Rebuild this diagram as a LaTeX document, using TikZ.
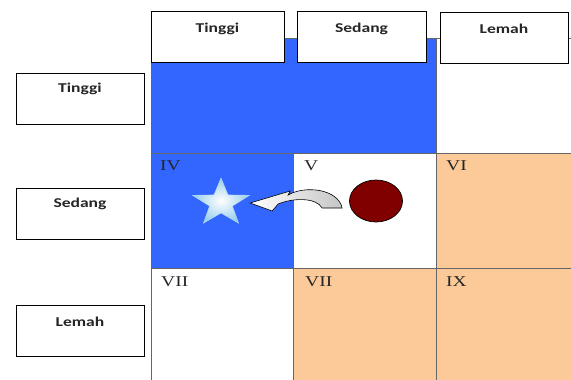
\documentclass[tikz,border=0pt]{standalone}
\usepackage{fontspec}
\setmainfont{Liberation Serif}
\newfontfamily\boxfont{Carlito}
\usepackage{graphicx}
\usetikzlibrary{shapes.geometric}

\definecolor{cellblue}{RGB}{51,102,255}
\definecolor{peach}{RGB}{252,202,152}
\definecolor{darkred}{RGB}{128,0,0}
\definecolor{starblue}{RGB}{150,205,235}
\newcommand{\wide}[1]{\scalebox{1.3}[1]{#1}}

\begin{document}
\begin{tikzpicture}[x=1pt,y=-1pt,
  hbox/.style={draw=black,line width=1pt,fill=white,minimum height=51pt,inner sep=0pt},
  htext/.style={anchor=base,font=\boxfont\bfseries\fontsize{13.5}{16}\selectfont,text=black!85},
  num/.style={anchor=base west,font=\fontsize{15}{18}\selectfont,text=black!85,inner sep=0pt},
  grid/.style={draw=black!60,line width=0.6pt}]
\useasboundingbox (0,0) rectangle (571,380);

% cells
\fill [cellblue] (151,38) rectangle (436,153);
\fill [cellblue] (151,153) rectangle (293,268);
\fill [peach] (436,153) rectangle (571,380);
\fill [peach] (293,268) rectangle (436,380);

\draw [grid] (151,38)--(571,38);
\draw [grid] (151,153)--(571,153);
\draw [grid] (151,268)--(571,268);
\draw [grid] (151,38)--(151,380);
\draw [grid] (293,38)--(293,380);
\draw [grid] (436,38)--(436,380);

% column heads
\node [hbox,minimum width=133pt] (cT) at (217.5,36.5) {};
\node [hbox,minimum width=129pt] (cS) at (361.5,36.5) {};
\node [hbox,minimum width=128pt] (cL) at (504,37.5) {};
\node [htext] (cTt) at ([yshift=-22pt]cT.north) {\wide{Tinggi}};
\node [htext] (cSt) at ([yshift=-22pt]cS.north) {\wide{Sedang}};
\node [htext] (cLt) at ([yshift=-22pt]cL.north) {\wide{Lemah}};

% row heads
\node [hbox,minimum width=128pt] (rT) at (80,98.5) {};
\node [hbox,minimum width=128pt] (rS) at (80,213.5) {};
\node [hbox,minimum width=128pt] (rL) at (80,330.5) {};
\node [htext] (rTt) at ([yshift=-20pt]rT.north) {\wide{Tinggi}};
\node [htext] (rSt) at ([yshift=-20pt]rS.north) {\wide{Sedang}};
\node [htext] (rLt) at ([yshift=-22pt]rL.north) {\wide{Lemah}};

% numbers
\node [num] (n4) at (160,170) {\wide{IV}};
\node [num] (n5) at (304,170) {\wide{V}};
\node [num] (n6) at (446,170) {\wide{VI}};
\node [num] (n7) at (161,286) {\wide{VII}};
\node [num] (n8) at (305,286) {\wide{VII}};
\node [num] (n9) at (446,286) {\wide{IX}};

% marks
\begin{scope}[shift={(221,203)},xscale=1.2]
\node [star,star points=5,star point ratio=2.5,minimum size=50pt,inner sep=0pt,
  transform shape,inner color=white,outer color=starblue,draw=starblue!70!white] (str) at (0,0) {};
\end{scope}
\node [ellipse,draw=black,line width=0.7pt,fill=darkred,minimum width=53pt,minimum height=42pt] (circ) at (376,201) {};

\begin{scope}[shift={(circ.west)}]
\shadedraw [left color=white,right color=gray!45,draw=black,line width=0.6pt]
  (-7,7) .. controls (-11,-12) and (-44,-16) .. (-61,-6) -- (-59,-10) -- (-99,2) -- (-77,10) -- (-71,3)
  .. controls (-57,-3) and (-33,-4) .. (-27,7) -- cycle;
\end{scope}
\end{tikzpicture}
\end{document}
